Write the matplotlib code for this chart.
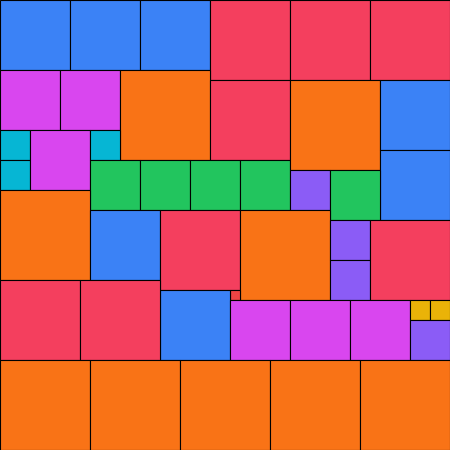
import matplotlib
matplotlib.use("Agg")
import matplotlib.pyplot as plt

# rectangles: left, top, width, height (pixel-like units on a 450 x 450 canvas)
x0 = [0, 70, 140, 210, 290, 370,
      0, 60, 120, 210,
      0, 0, 30, 90,
      90, 140, 190, 240,
      290, 380, 380, 290, 330,
      0, 90, 160, 240, 230, 160,
      330, 330, 370,
      0, 80,
      230, 290, 350, 410, 430, 410,
      0, 90, 180, 270, 360]
y0 = [0, 0, 0, 0, 0, 0,
      70, 70, 70, 80,
      130, 160, 130, 130,
      160, 160, 160, 160,
      80, 80, 150, 170, 170,
      190, 210, 210, 210, 290, 290,
      220, 260, 220,
      280, 280,
      300, 300, 300, 300, 300, 320,
      360, 360, 360, 360, 360]
w = [70, 70, 70, 80, 80, 80,
     60, 60, 90, 80,
     30, 30, 60, 30,
     50, 50, 50, 50,
     90, 70, 70, 40, 50,
     90, 70, 80, 90, 10, 70,
     40, 40, 80,
     80, 80,
     60, 60, 60, 20, 20, 40,
     90, 90, 90, 90, 90]
h = [70, 70, 70, 80, 80, 80,
     60, 60, 90, 80,
     30, 30, 60, 30,
     50, 50, 50, 50,
     90, 70, 70, 40, 50,
     90, 70, 80, 90, 10, 70,
     40, 40, 80,
     80, 80,
     60, 60, 60, 20, 20, 40,
     90, 90, 90, 90, 90]
groups = ["blue", "blue", "blue", "red", "red", "red",
          "magenta", "magenta", "orange", "red",
          "cyan", "cyan", "magenta", "cyan",
          "green", "green", "green", "green",
          "orange", "blue", "blue", "purple", "green",
          "orange", "blue", "red", "orange", "red2", "blue",
          "purple", "purple", "red",
          "red", "red",
          "magenta", "magenta", "magenta", "yellow", "yellow", "purple",
          "orange", "orange", "orange", "orange", "orange"]

palette = {"blue": "#3B82F6", "red": "#F43F5E", "magenta": "#D946EF",
           "orange": "#F97316", "cyan": "#06B6D4", "green": "#22C55E",
           "purple": "#8B5CF6", "yellow": "#EAB308", "red2": "#EF4444"}

fig = plt.figure(figsize=(4.5, 4.5), dpi=100)
ax = fig.add_axes([0, 0, 1, 1])
ax.bar(x0, h, width=w, bottom=y0, align="edge",
       color=[palette[g] for g in groups], edgecolor="black", linewidth=0.8)
ax.set_xlim(0, 450)
ax.set_ylim(450, 0)
ax.axis("off")
fig.savefig("out.png", dpi=100)
